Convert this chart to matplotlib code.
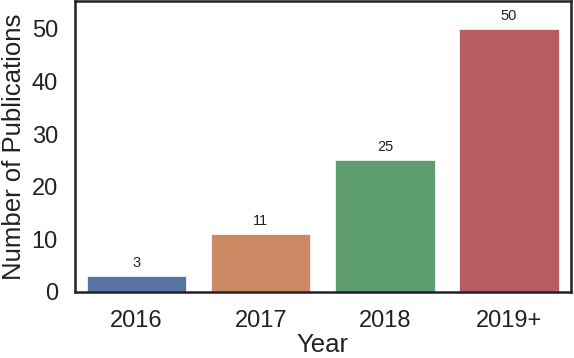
import matplotlib
matplotlib.use("Agg")
import matplotlib.pyplot as plt
import seaborn as sns

# data
years = ["2016", "2017", "2018", "2019+"]
counts = [3, 11, 25, 50]

sns.set_style("white")
plt.rcParams['font.family'] = ['Liberation Sans', 'DejaVu Sans']

fig, ax = plt.subplots(figsize=(5.74, 3.58), dpi=100)
colors = sns.color_palette("deep", 4, desat=0.75)
bars = ax.bar(years, counts, width=0.8, color=colors, edgecolor="white", linewidth=0.5)

for b, v in zip(bars, counts):
    ax.text(b.get_x() + b.get_width() / 2, v + 1.2, str(v),
            ha="center", va="bottom", fontsize=10.5, color="#222222")

ax.set_xlim(-0.5, 3.5)
ax.set_ylim(0, 55.3)
ax.set_yticks([0, 10, 20, 30, 40, 50])
ax.tick_params(labelsize=17, colors="#222222", length=0)
ax.tick_params(axis="x", pad=13)
ax.tick_params(axis="y", pad=12)
ax.set_xlabel("Year", fontsize=18.5, color="#222222", labelpad=1)
ax.set_ylabel("Number of Publications", fontsize=18.5, color="#222222", labelpad=4)
for s in ax.spines.values():
    s.set_color("#222222")
    s.set_linewidth(1.8)

fig.subplots_adjust(left=0.13, right=0.995, top=0.997, bottom=0.185)
fig.savefig("out.png", dpi=100)
